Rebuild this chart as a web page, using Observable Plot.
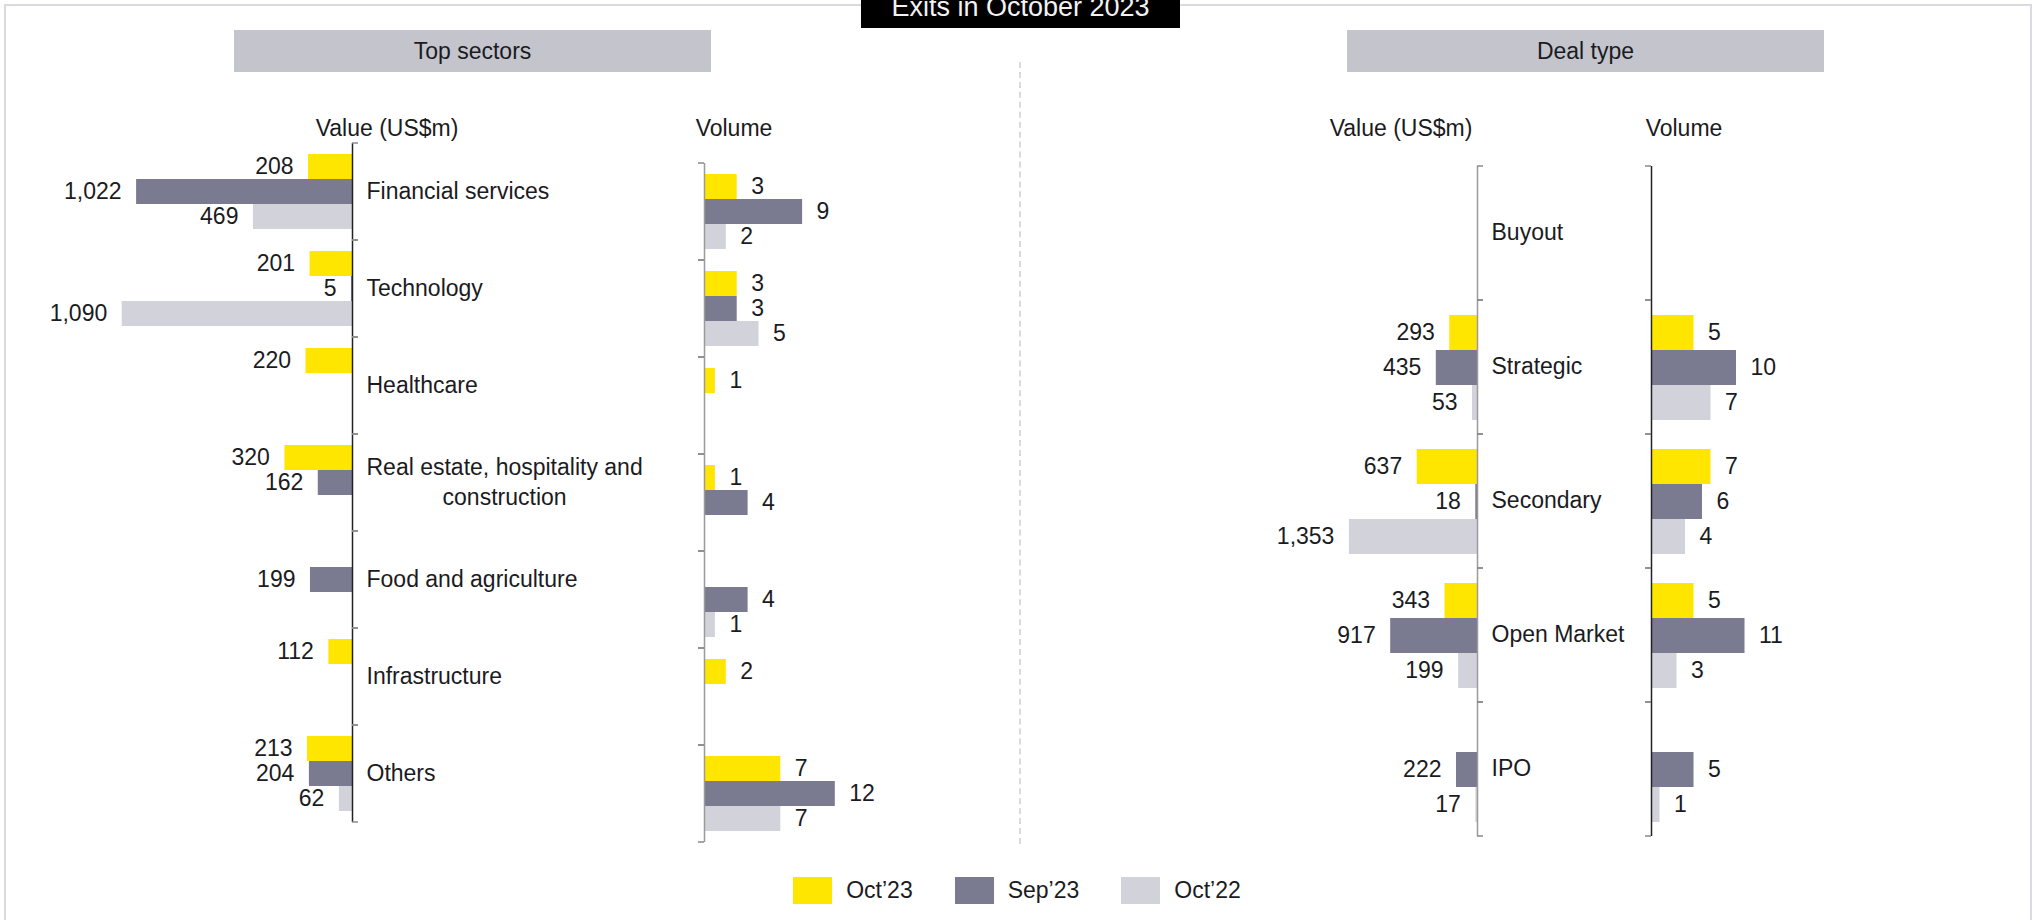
<!DOCTYPE html>
<html>
<head>
<meta charset="utf-8">
<script src="https://cdn.jsdelivr.net/npm/d3@7"></script>
<script src="https://cdn.jsdelivr.net/npm/@observablehq/plot@0.6"></script>
<style>
  body { margin: 0; background: #fff; font-family: "Liberation Sans", Arial, sans-serif; color: #1b1b22; }
  #root { position: relative; width: 2042px; height: 920px; overflow: hidden; background: #fff; }
  .abs { position: absolute; }
  .frame { left: 4px; top: 4px; width: 2028px; height: 1000px; border: 2px solid #dadae0; box-sizing: border-box; }
  .title { left: 861px; top: 0; width: 319px; height: 28px; background: #000; color: #f2f2f2; font-size: 27px; text-align: center; overflow: hidden; }
  .title span { position: relative; display: block; line-height: 28px; top: -7px; white-space: nowrap; }
  .hdr { top: 30px; height: 42px; width: 477px; background: #C4C4CD; font-size: 23px; text-align: center; line-height: 42px; }
  .sub { top: 112px; font-size: 23px; line-height: 32px; transform: translateX(-50%); white-space: nowrap; }
  .divider { left: 1019px; top: 62px; height: 782px; border-left: 2px dashed #d9d9df; }
  .legend { top: 877px; left: 0; width: 2034px; display: flex; justify-content: center; gap: 42px; font-size: 23px; line-height: 27px; }
  .legend .item { display: flex; align-items: center; }
  .legend .sw { width: 39px; height: 27px; margin-right: 14px; }
  .panel { position: absolute; }
  .panel svg { overflow: visible; }
</style>
</head>
<body>
<div id="root">
  <div class="abs frame"></div>
  <div class="abs title"><span>Exits in October 2023</span></div>
  <div class="abs hdr" style="left:234px">Top sectors</div>
  <div class="abs hdr" style="left:1347px">Deal type</div>
  <div class="abs sub" style="left:387px">Value (US$m)</div>
  <div class="abs sub" style="left:734px">Volume</div>
  <div class="abs sub" style="left:1401px">Value (US$m)</div>
  <div class="abs sub" style="left:1684px">Volume</div>
  <div class="abs divider"></div>
  <div class="abs legend" id="legend"></div>
</div>
<script>
// ---- Data ----
const series = ["Oct’23", "Sep’23", "Oct’22"];
const colors = ["#FFE600", "#7A7A91", "#D2D2DA"];

const sectors = ["Financial services", "Technology", "Healthcare", "Real estate, hospitality and\nconstruction", "Food and agriculture", "Infrastructure", "Others"];
const sectorValueOct23 = [208, 201, 220, 320, null, 112, 213];
const sectorValueSep23 = [1022, 5, null, 162, 199, null, 204];
const sectorValueOct22 = [469, 1090, null, null, null, null, 62];
const sectorVolumeOct23 = [3, 3, 1, 1, null, 2, 7];
const sectorVolumeSep23 = [9, 3, null, 4, 4, null, 12];
const sectorVolumeOct22 = [2, 5, null, null, 1, null, 7];

const dealTypes = ["Buyout", "Strategic", "Secondary", "Open Market", "IPO"];
const dealValueOct23 = [null, 293, 637, 343, null];
const dealValueSep23 = [null, 435, 18, 917, 222];
const dealValueOct22 = [null, 53, 1353, 199, 17];
const dealVolumeOct23 = [null, 5, 7, 5, null];
const dealVolumeSep23 = [null, 10, 6, 11, 5];
const dealVolumeOct22 = [null, 7, 4, 3, 1];

// ---- Helpers ----
const fmt = d3.format(",");
function tidy(cats, vals) {
  const rows = [];
  cats.forEach((c, i) => series.forEach((s, j) => {
    const v = vals[j][i];
    if (v != null) rows.push({cat: c, series: s, value: v});
  }));
  return rows;
}

function tickMark(isLeft) {
  return (index, scales, values, dimensions) => {
    const x0 = scales.x(0);
    const s = isLeft ? 1 : -1;
    const g = document.createElementNS("http://www.w3.org/2000/svg", "g");
    for (const y of [dimensions.marginTop, dimensions.height - dimensions.marginBottom]) {
      const l = document.createElementNS("http://www.w3.org/2000/svg", "line");
      l.setAttribute("x1", x0); l.setAttribute("x2", x0 + s * 6);
      l.setAttribute("y1", y); l.setAttribute("y2", y);
      l.setAttribute("stroke", "#8a8a8a"); l.setAttribute("stroke-width", 1.5);
      g.appendChild(l);
    }
    return g;
  };
}

function panel({cats, vals, dir, D, left, top, width, height, ml, mr, padOuter, axisColor, labels}) {
  const rows = tidy(cats, vals);
  const isLeft = dir === "left";
  const marks = [
    Plot.barX(rows, {x: "value", y: "series", fy: "cat", fill: "series"}),
    Plot.text(rows, {x: "value", y: "series", fy: "cat", text: d => fmt(d.value),
      textAnchor: isLeft ? "end" : "start", dx: isLeft ? -15 : 14, fill: "#1b1b22"}),
    Plot.ruleX(cats, {x: 0, fy: d => d, stroke: axisColor, strokeWidth: 1.5}),
    tickMark(isLeft)
  ];
  if (labels) marks.push(Plot.axisFy({anchor: "right", tickSize: 0, tickPadding: 14, label: null, lineHeight: 1.3, dy: -3, fill: "#1b1b22"}));
  const chart = Plot.plot({
    width, height,
    marginTop: 5, marginBottom: 5, marginLeft: ml, marginRight: mr,
    style: {fontFamily: "'Liberation Sans', Arial, sans-serif", fontSize: "23px", background: "transparent", color: "#1b1b22", overflow: "visible"},
    x: {domain: [0, D], reverse: isLeft, axis: null},
    y: {domain: series, paddingInner: 0, paddingOuter: padOuter, axis: null},
    fy: labels ? {domain: cats, padding: 0} : {domain: cats, padding: 0, axis: null},
    color: {domain: series, range: colors},
    marks
  });
  const wrap = document.createElement("div");
  wrap.className = "panel";
  wrap.style.left = left + "px";
  wrap.style.top = top + "px";
  wrap.style.width = width + "px";
  wrap.appendChild(chart);
  document.getElementById("root").appendChild(wrap);
  // center the second line of multi-line category labels under the first
  for (const t of chart.querySelectorAll("text")) {
    const spans = t.querySelectorAll("tspan");
    if (spans.length === 2) {
      const w = spans[0].getComputedTextLength();
      t.setAttribute("text-anchor", "middle");
      spans.forEach(sp => sp.setAttribute("x", w / 2));
    }
  }
}

// Top sectors
panel({cats: sectors, vals: [sectorValueOct23, sectorValueSep23, sectorValueOct22], dir: "left", D: 1600,
  left: 0, top: 138, width: 682, height: 689, ml: 14, mr: 330, padOuter: 0.39, axisColor: "#222", labels: true});
panel({cats: sectors, vals: [sectorVolumeOct23, sectorVolumeSep23, sectorVolumeOct22], dir: "right", D: 20,
  left: 694, top: 158, width: 268, height: 689, ml: 10, mr: 40, padOuter: 0.39, axisColor: "#9a9a9a", labels: false});
// Deal type
panel({cats: dealTypes, vals: [dealValueOct23, dealValueSep23, dealValueOct22], dir: "left", D: 3000,
  left: 1180, top: 160, width: 477, height: 681, ml: 13, mr: 180, padOuter: 0.378, axisColor: "#9a9a9a", labels: true});
panel({cats: dealTypes, vals: [dealVolumeOct23, dealVolumeSep23, dealVolumeOct22], dir: "right", D: 20,
  left: 1641, top: 160, width: 220, height: 681, ml: 10, mr: 40, padOuter: 0.378, axisColor: "#222", labels: false});

// Legend
const legend = document.getElementById("legend");
series.forEach((s, i) => {
  const item = document.createElement("div");
  item.className = "item";
  const sw = document.createElement("div");
  sw.className = "sw";
  sw.style.background = colors[i];
  const lab = document.createElement("span");
  lab.textContent = s;
  item.appendChild(sw); item.appendChild(lab);
  legend.appendChild(item);
});
</script>
</body>
</html>
